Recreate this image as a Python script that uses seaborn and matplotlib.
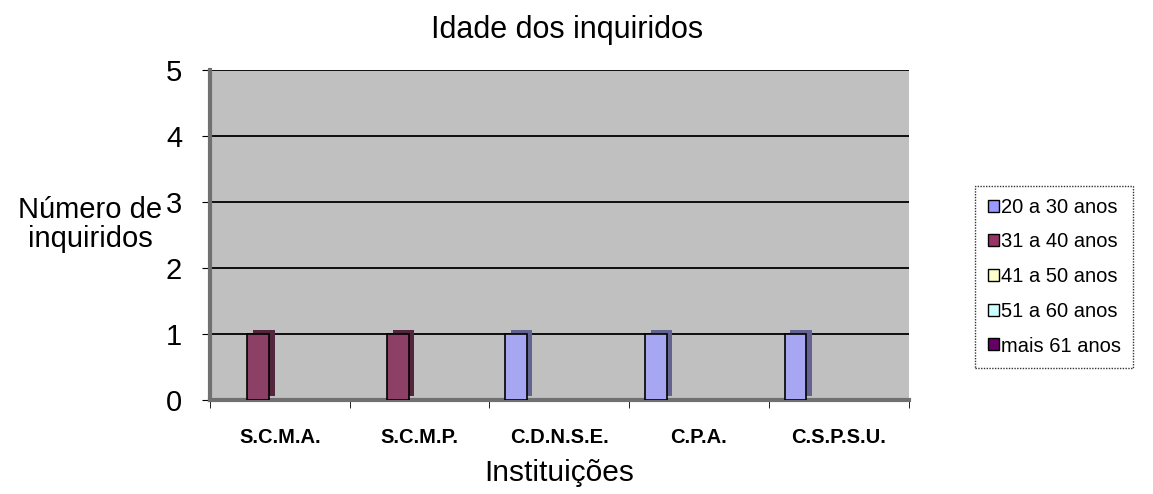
import numpy as np
import pandas as pd
import matplotlib
matplotlib.use("Agg")
import matplotlib.pyplot as plt
import matplotlib.patheffects as pe
from matplotlib.patches import Patch
import seaborn as sns

# dados
instituicoes = ["S.C.M.A.", "S.C.M.P.", "C.D.N.S.E.", "C.P.A.", "C.S.P.S.U."]
faixas = ["20 a 30 anos", "31 a 40 anos", "41 a 50 anos", "51 a 60 anos", "mais 61 anos"]
n_20_30 = [0, 0, 1, 1, 1]
n_31_40 = [1, 1, 0, 0, 0]
n_41_50 = [0, 0, 0, 0, 0]
n_51_60 = [0, 0, 0, 0, 0]
n_61 = [0, 0, 0, 0, 0]
cores = ["#9999FF", "#993366", "#FFFFCC", "#CCFFFF", "#660066"]

series = [n_20_30, n_31_40, n_41_50, n_51_60, n_61]
rows = []
for faixa, vals in zip(faixas, series):
    for inst, v in zip(instituicoes, vals):
        rows.append({"Instituições": inst, "Idade": faixa, "n": v})
df = pd.DataFrame(rows)

sns.set_style("white")
plt.rcParams["font.family"] = ["Liberation Sans", "DejaVu Sans"]
plt.rcParams["text.color"] = "black"
plt.rcParams["axes.labelcolor"] = "black"
plt.rcParams["xtick.color"] = "black"
plt.rcParams["ytick.color"] = "black"

fig = plt.figure(figsize=(11.53, 4.94), dpi=100)
ax = fig.add_axes([0.182, 0.19, 0.606, 0.668])
ax.set_facecolor("#C0C0C0")

sns.barplot(data=df, x="Instituições", y="n", hue="Idade", hue_order=faixas,
            palette=cores, width=0.77, edgecolor="black", linewidth=1.2,
            legend=False, ax=ax, zorder=3)

# efeito 3D simples: face lateral escura deslocada
for p in ax.patches:
    if p.get_height() > 0:
        fc = np.array(matplotlib.colors.to_rgb(p.get_facecolor())) * 0.6
        p.set_path_effects([pe.SimplePatchShadow(offset=(4, 3), shadow_rgbFace=fc, alpha=1),
                            pe.Normal()])
    else:
        p.set_linewidth(0)

ax.set_ylim(0, 5)
ax.set_xlim(-0.5, len(instituicoes) - 0.5)
ax.set_yticks(range(6))
ax.yaxis.grid(True, color="black", linewidth=1.3, zorder=0)
ax.set_axisbelow(True)
for s in ["top", "right"]:
    ax.spines[s].set_visible(False)
ax.spines["left"].set_color("#707070")
ax.spines["left"].set_linewidth(3)
ax.spines["bottom"].set_color("#707070")
ax.spines["bottom"].set_linewidth(3)

ax.tick_params(axis="y", labelsize=21, left=True, length=6, pad=14)
ax.set_xticks(range(len(instituicoes)))
ax.set_xticklabels(instituicoes, fontsize=14.5, fontweight="bold")
ax.set_xticks(np.arange(len(instituicoes) + 1) - 0.5, minor=True)
ax.tick_params(axis="x", which="major", length=0, pad=20)
ax.tick_params(axis="x", which="minor", length=6, bottom=True)

ax.set_xlabel("Instituições", fontsize=21.5, labelpad=9)
ax.set_ylabel("")
fig.text(0.078, 0.545, "Número de\ninquiridos", fontsize=21, ha="center", va="center",
         linespacing=1.05)
fig.text(0.492, 0.94, "Idade dos inquiridos", fontsize=22, ha="center", va="center")

handles = [Patch(facecolor=c, edgecolor="black", label=f) for c, f in zip(cores, faixas)]
leg = fig.legend(handles=handles, loc="center left", bbox_to_anchor=(0.846, 0.44),
                 fontsize=14.5, frameon=True, fancybox=False, handlelength=0.55,
                 handleheight=0.55, handletextpad=0.1, labelspacing=0.78,
                 borderpad=0.6, borderaxespad=0)
leg.get_frame().set_edgecolor("black")
leg.get_frame().set_linestyle((0, (1, 1)))
leg.get_frame().set_linewidth(1)

fig.savefig("out.png", dpi=100)
